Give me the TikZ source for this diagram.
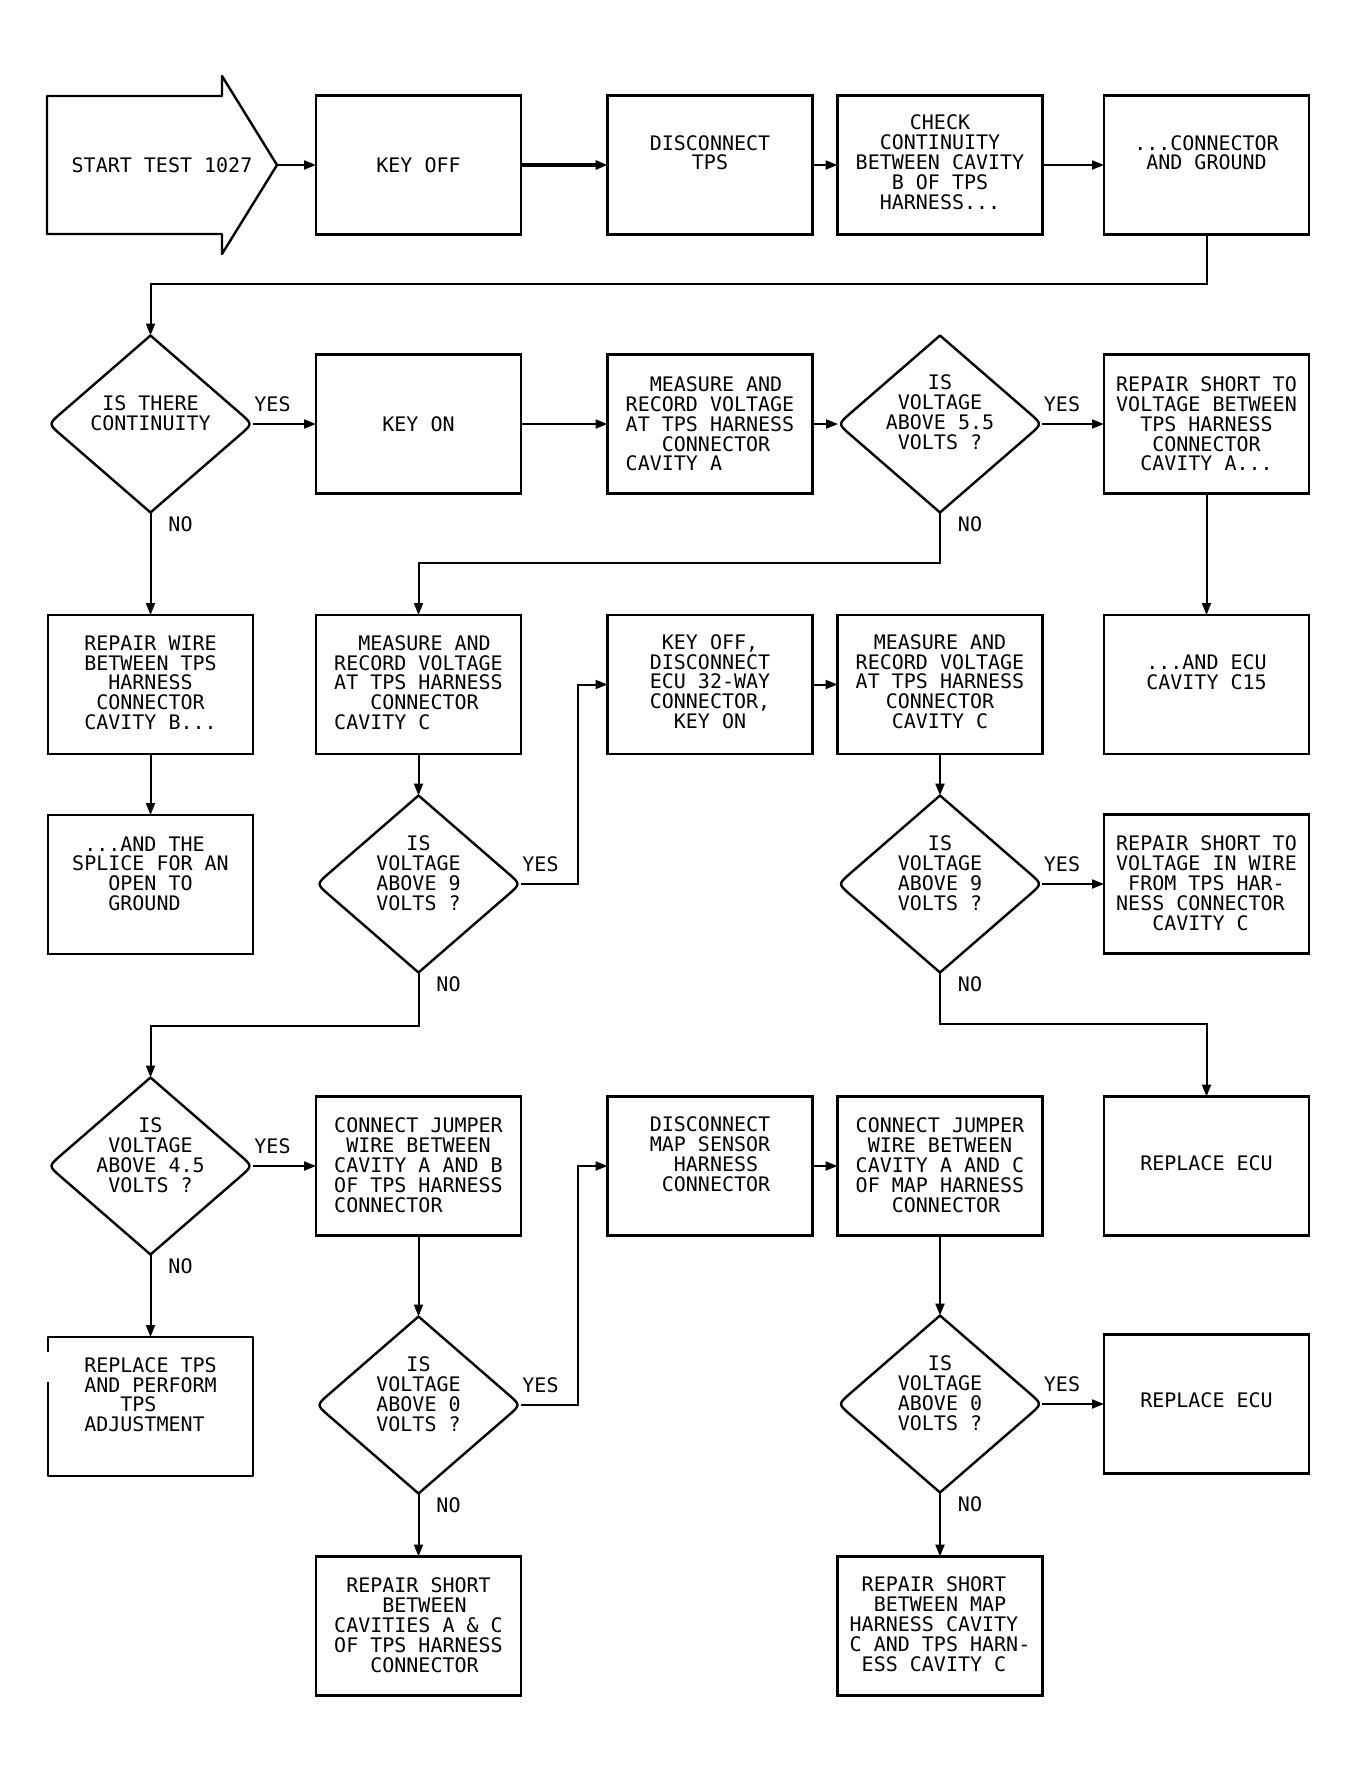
\documentclass[tikz,border=0pt]{standalone}
\usepackage{fontspec}
\newfontfamily\dmono{DejaVu Sans Mono}
\usetikzlibrary{arrows.meta,calc}
\newlength{\chw}\setlength{\chw}{6.02pt}
\newcommand\lpad[1]{\hspace*{#1\chw}}
\newcommand\upby[1]{\rule[-#1pt]{0pt}{0pt}}
\newcommand\dmdoutline[1]{\draw[outl] (#1.north) -- ($(#1.west)!0.12!(#1.north)$) .. controls (#1.west) .. ($(#1.west)!0.12!(#1.south)$) -- (#1.south) -- ($(#1.east)!0.12!(#1.south)$) .. controls (#1.east) .. ($(#1.east)!0.12!(#1.north)$) -- cycle;}
\begin{document}
\begin{tikzpicture}[x=0.5pt,y=-0.5pt,
  every node/.style={font=\fontsize{10}{9.9}\dmono, inner sep=0pt, outer sep=0pt},
  box/.style={draw, line width=1.2pt, minimum width=102.5pt, minimum height=69.5pt, align=center},
  lbox/.style={box, align=left},
  dmd/.style={minimum width=102pt, minimum height=88.5pt, align=center},
  arr/.style={line width=1pt, -{Triangle[length=6pt,width=4.5pt]}},
  outl/.style={line width=1.2pt, line join=round}
]
\fill[white] (0,0) rectangle (1370,1778);
\useasboundingbox (0,0) rectangle (1370,1778);

% Row 1
\node[minimum width=115pt, minimum height=70pt] (start) at (162,165) {START TEST 1027};
\draw[outl] (47,96) -- (222,96) -- (222,76) -- (start.east) -- (222,254) -- (222,234) -- (47,234) -- cycle;
\node[box] (ko) at (418.5,165) {KEY OFF};
\node[box] (dtps) at (710,165) {DISCONNECT\\TPS\upby{12.5}};
\node[box] (chk) at (940,165) {CHECK\\CONTINUITY\\BETWEEN CAVITY\\B OF TPS\\HARNESS...\upby{3}};
\node[box] (cg) at (1206.5,165) {...CONNECTOR\\AND GROUND\upby{12.5}};

% Row 2
\node[dmd] (d1) at (150.5,424) {IS THERE\\CONTINUITY\upby{11}};
\node[box] (kon) at (418.5,424) {KEY ON};
\node[lbox] (ma) at (710,424) {\lpad{2}MEASURE AND\\RECORD VOLTAGE\\AT TPS HARNESS\\\lpad{3}CONNECTOR\\CAVITY A};
\node[dmd] (d2) at (940,424) {IS\\VOLTAGE\\ABOVE 5.5\\VOLTS ?\upby{12}};
\node[box] (rsa) at (1206.5,424) {REPAIR SHORT TO\\VOLTAGE BETWEEN\\TPS HARNESS\\CONNECTOR\\CAVITY A...};

% Row 3
\node[box] (rw) at (150.5,684.5) {REPAIR WIRE\\BETWEEN TPS\\HARNESS\\CONNECTOR\\CAVITY B...\upby{2}};
\node[lbox] (mc) at (418.5,684.5) {\lpad{2}MEASURE AND\\RECORD VOLTAGE\\AT TPS HARNESS\\\lpad{3}CONNECTOR\\CAVITY C\upby{2}};
\node[box] (ko2) at (710,684.5) {KEY OFF,\\DISCONNECT\\ECU 32-WAY\\CONNECTOR,\\KEY ON\upby{3}};
\node[box] (mc2) at (940,684.5) {MEASURE AND\\RECORD VOLTAGE\\AT TPS HARNESS\\CONNECTOR\\CAVITY C\upby{3}};
\node[box] (ecu15) at (1206.5,684.5) {...AND ECU\\CAVITY C15\upby{12.5}};

% Row 4
\node[lbox] (spl) at (150.5,884.5) {\lpad{1}...AND THE\\SPLICE FOR AN\\\lpad{3}OPEN TO\\\lpad{3}GROUND\upby{11}};
\node[dmd] (d3) at (418.5,884) {IS\\VOLTAGE\\ABOVE 9\\VOLTS ?\upby{11}};
\node[dmd] (d4) at (940,884) {IS\\VOLTAGE\\ABOVE 9\\VOLTS ?\upby{11}};
\node[lbox] (rsw) at (1206.5,884) {REPAIR SHORT TO\\VOLTAGE IN WIRE\\\lpad{1}FROM TPS HAR-\\NESS CONNECTOR\\\lpad{3}CAVITY C\upby{1}};

% Row 5
\node[dmd] (d5) at (150.5,1166) {IS\\VOLTAGE\\ABOVE 4.5\\VOLTS ?\upby{11}};
\node[lbox] (cj1) at (418.5,1166) {CONNECT JUMPER\\\lpad{1}WIRE BETWEEN\\CAVITY A AND B\\OF TPS HARNESS\\CONNECTOR\upby{1}};
\node[lbox] (dmap) at (710,1166) {DISCONNECT\\MAP SENSOR\\\lpad{2}HARNESS\\\lpad{1}CONNECTOR\upby{12}};
\node[lbox] (cj2) at (940,1166) {CONNECT JUMPER\\\lpad{1}WIRE BETWEEN\\CAVITY A AND C\\OF MAP HARNESS\\\lpad{3}CONNECTOR\upby{1}};
\node[box] (re1) at (1206.5,1166) {REPLACE ECU\upby{3}};

% Row 6
\node[lbox, draw=none] (rtps) at (150.5,1406.5) {REPLACE TPS\\AND PERFORM\\\lpad{3}TPS\\ADJUSTMENT\upby{12}};
\draw[outl] ($(rtps.north west)+(0,45)$) -- (rtps.south west) -- (rtps.south east) -- (rtps.north east) -- (rtps.north west) -- ++(0,15);
\node[dmd] (d6) at (418.5,1405) {IS\\VOLTAGE\\ABOVE 0\\VOLTS ?\upby{11}};
\node[dmd] (d7) at (940,1404) {IS\\VOLTAGE\\ABOVE 0\\VOLTS ?\upby{11}};
\node[box] (re2) at (1206.5,1404) {REPLACE ECU\upby{4}};

% Row 7
\node[lbox] (rsc) at (418.5,1626) {\lpad{1}REPAIR SHORT\\\lpad{4}BETWEEN\\CAVITIES A \& C\\OF TPS HARNESS\\\lpad{3}CONNECTOR\upby{1}};
\node[lbox] (rsm) at (940,1626) {\lpad{1}REPAIR SHORT\\\lpad{2}BETWEEN MAP\\HARNESS CAVITY\\C AND TPS HARN-\\\lpad{1}ESS CAVITY C\upby{2}};

% diamond outlines
\dmdoutline{d1}
\dmdoutline{d2}
\dmdoutline{d3}
\dmdoutline{d4}
\dmdoutline{d5}
\dmdoutline{d6}
\dmdoutline{d7}

% connectors
\draw[arr] (start.east) -- (ko.west);
\draw[arr, line width=1.6pt] (ko.east) -- (dtps.west);
\draw[arr] (dtps.east) -- (chk.west);
\draw[arr] (chk.east) -- (cg.west);
\draw[arr] (cg.south) |- ($(d1.north)+(0,-52)$) -- (d1.north);
\draw[arr] (d1.east) -- (kon.west);
\draw[arr] (kon.east) -- (ma.west);
\draw[arr] (ma.east) -- (d2.west);
\draw[arr] (d2.east) -- (rsa.west);
\draw[arr] (rsa.south) -- (ecu15.north);
\draw[arr] (d2.south) |- ($(mc.north)+(0,-52)$) -- (mc.north);
\draw[arr] (d1.south) -- (rw.north);
\draw[arr] (rw.south) -- (spl.north);
\draw[arr] (mc.south) -- (d3.north);
\draw[arr] (d3.east) -| ($(ko2.west)+(-30,0)$) -- (ko2.west);
\draw[arr] (ko2.east) -- (mc2.west);
\draw[arr] (mc2.south) -- (d4.north);
\draw[arr] (d4.east) -- (rsw.west);
\draw[arr] (d4.south) |- ($(re1.north)+(0,-73)$) -- (re1.north);
\draw[arr] (d3.south) |- ($(d5.north)+(0,-52)$) -- (d5.north);
\draw[arr] (d5.east) -- (cj1.west);
\draw[arr] (d5.south) -- (rtps.north);
\draw[arr] (cj1.south) -- (d6.north);
\draw[arr] (d6.east) -| ($(dmap.west)+(-30,0)$) -- (dmap.west);
\draw[arr] (dmap.east) -- (cj2.west);
\draw[arr] (cj2.south) -- (d7.north);
\draw[arr] (d7.east) -- (re2.west);
\draw[arr] (d7.south) -- (rsm.north);
\draw[arr] (d6.south) -- (rsc.north);

% labels
\node (y1) at ($(d1.east)+(20,-20)$) {YES};
\node (n1) at ($(d1.south)+(30,12)$) {NO};
\node (y2) at ($(d2.east)+(20,-20)$) {YES};
\node (n2) at ($(d2.south)+(30,12)$) {NO};
\node (y3) at ($(d3.east)+(20,-20)$) {YES};
\node (n3) at ($(d3.south)+(30,12)$) {NO};
\node (y4) at ($(d4.east)+(20,-20)$) {YES};
\node (n4) at ($(d4.south)+(30,12)$) {NO};
\node (y5) at ($(d5.east)+(20,-20)$) {YES};
\node (n5) at ($(d5.south)+(30,12)$) {NO};
\node (y6) at ($(d6.east)+(20,-20)$) {YES};
\node (n6) at ($(d6.south)+(30,12)$) {NO};
\node (y7) at ($(d7.east)+(20,-20)$) {YES};
\node (n7) at ($(d7.south)+(30,12)$) {NO};
\end{tikzpicture}
\end{document}
